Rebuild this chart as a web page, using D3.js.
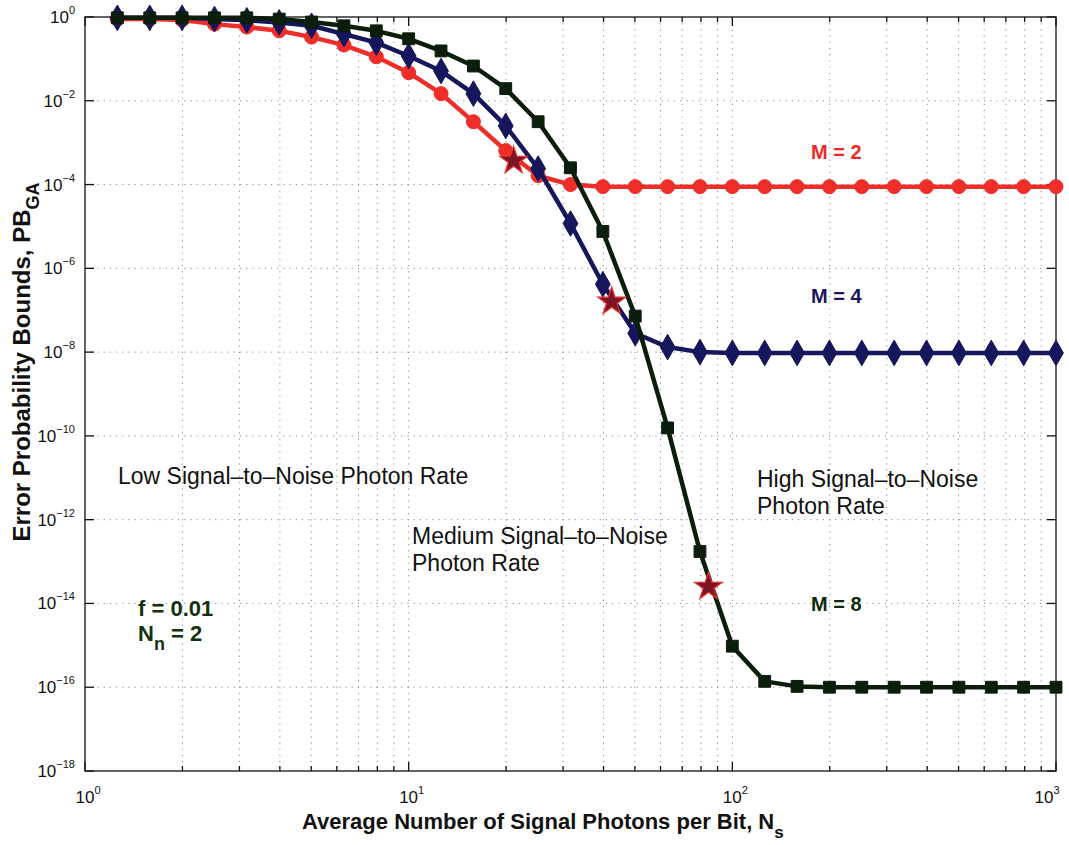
<!DOCTYPE html>
<html>
<head>
<meta charset="utf-8">
<script src="https://cdn.jsdelivr.net/npm/d3@7"></script>
<style>
  html, body { margin: 0; padding: 0; background: #ffffff; }
  svg text { font-family: "Liberation Sans", Arial, Helvetica, sans-serif; }
</style>
</head>
<body>
<svg id="chart" width="1069" height="845"></svg>
<script>
// Average number of signal photons per bit (N_s)
const photons = [1.259, 1.585, 1.995, 2.512, 3.162, 3.981, 5.012, 6.310, 7.943, 10,
                 12.59, 15.85, 19.95, 25.12, 31.62, 39.81, 50.12, 63.10, 79.43, 100,
                 125.9, 158.5, 199.5, 251.2, 316.2, 398.1, 501.2, 631.0, 794.3, 1000];

// log10 of the error probability bound for each M
const logPB_M2 = [-0.05, -0.05, -0.07, -0.17, -0.24, -0.33, -0.48, -0.67, -0.95, -1.33,
                  -1.83, -2.50, -3.19, -3.79, -4.00, -4.05, -4.05, -4.05, -4.05, -4.05,
                  -4.05, -4.05, -4.05, -4.05, -4.05, -4.05, -4.05, -4.05, -4.05, -4.05];
const logPB_M4 = [-0.02, -0.02, -0.02, -0.05, -0.08, -0.13, -0.21, -0.41, -0.61, -0.93,
                  -1.29, -1.83, -2.60, -3.62, -4.93, -6.38, -7.55, -7.88, -8.00, -8.02,
                  -8.02, -8.02, -8.02, -8.02, -8.02, -8.02, -8.02, -8.02, -8.02, -8.02];
const logPB_M8 = [-0.02, -0.02, -0.02, -0.02, -0.02, -0.05, -0.12, -0.21, -0.33, -0.52,
                  -0.81, -1.17, -1.71, -2.50, -3.60, -5.12, -7.14, -9.81, -12.76, -15.02,
                  -15.86, -15.98, -16.00, -16.00, -16.00, -16.00, -16.00, -16.00, -16.00, -16.00];

// Operating points marked with stars: [N_s, PB]
const starPoints = [[21.1, 3.7e-4], [42.4, 1.6e-7], [84.4, 2.5e-14]];

// Axis ticks
const xMajor = [1, 10, 100, 1000];
const yMajorExp = [0, -2, -4, -6, -8, -10, -12, -14, -16, -18];

const series = [
  { name: "M = 2", logs: logPB_M2, color: "#ef2e2a", marker: "circle" },
  { name: "M = 4", logs: logPB_M4, color: "#15165c", marker: "diamond" },
  { name: "M = 8", logs: logPB_M8, color: "#0b1d0b", marker: "square" }
];

const svg = d3.select("#chart");
const L = 85, R = 1056, T = 17, B = 771;

const x = d3.scaleLog().domain([1, 1000]).range([L, R]);
const y = d3.scaleLog().domain([1, 1e-18]).range([T, B]);

// minor x ticks (2..9 within each decade)
const xMinor = [];
for (let d = 0; d < 3; d++) for (let m = 2; m <= 9; m++) xMinor.push(m * Math.pow(10, d));

// grid
const grid = svg.append("g").attr("stroke", "#8a8a8a").attr("stroke-width", 1)
  .attr("stroke-dasharray", "1.2,5");
grid.selectAll("line.vx").data(xMinor.concat([10, 100])).join("line")
  .attr("x1", d => x(d)).attr("x2", d => x(d)).attr("y1", T).attr("y2", B);
grid.selectAll("line.hy").data(yMajorExp.filter(e => e !== 0 && e !== -18)).join("line")
  .attr("x1", L).attr("x2", R).attr("y1", e => y(Math.pow(10, e))).attr("y2", e => y(Math.pow(10, e)));

// frame
svg.append("rect").attr("x", L).attr("y", T).attr("width", R - L).attr("height", B - T)
  .attr("fill", "none").attr("stroke", "#111").attr("stroke-width", 1.3);

// tick marks on all four sides
const ticks = svg.append("g").attr("stroke", "#111").attr("stroke-width", 1.3);
xMinor.forEach(v => {
  ticks.append("line").attr("x1", x(v)).attr("x2", x(v)).attr("y1", B).attr("y2", B - 5);
  ticks.append("line").attr("x1", x(v)).attr("x2", x(v)).attr("y1", T).attr("y2", T + 5);
});
xMajor.forEach(v => {
  ticks.append("line").attr("x1", x(v)).attr("x2", x(v)).attr("y1", B).attr("y2", B - 9);
  ticks.append("line").attr("x1", x(v)).attr("x2", x(v)).attr("y1", T).attr("y2", T + 9);
});
yMajorExp.forEach(e => {
  const yy = y(Math.pow(10, e));
  ticks.append("line").attr("x1", L).attr("x2", L + 9).attr("y1", yy).attr("y2", yy);
  ticks.append("line").attr("x1", R).attr("x2", R - 9).attr("y1", yy).attr("y2", yy);
});

// tick labels
function powerLabel(g, px, py, exp, anchor) {
  const t = g.append("text").attr("x", px).attr("y", py).attr("text-anchor", anchor)
    .attr("font-size", 17).attr("fill", "#111");
  t.append("tspan").text("10");
  t.append("tspan").attr("dy", -9).attr("font-size", 11).text(exp < 0 ? "\u2212" + (-exp) : String(exp));
}
const lbl = svg.append("g");
yMajorExp.forEach(e => powerLabel(lbl, 75, y(Math.pow(10, e)) + 6, e, "end"));
xMajor.forEach(v => {
  const px = v === 1000 ? x(v) - 9 : x(v) + 3;
  powerLabel(lbl, px, 803, Math.round(Math.log10(v)), "middle");
});

// line + markers
const line = d3.line().x(d => x(d[0])).y(d => y(d[1]));
series.forEach(s => {
  const pts = photons.map((p, i) => [p, Math.pow(10, s.logs[i])]);
  const g = svg.append("g");
  g.append("path").datum(pts).attr("d", line).attr("fill", "none")
    .attr("stroke", s.color).attr("stroke-width", 4.5).attr("stroke-linejoin", "round");
  const symType = s.marker === "circle" ? d3.symbolCircle : s.marker === "square" ? d3.symbolSquare : d3.symbolDiamond;
  const size = s.marker === "circle" ? 155 : s.marker === "square" ? 140 : 190;
  g.selectAll("path.m").data(pts).join("path")
    .attr("d", d3.symbol().type(symType).size(size))
    .attr("transform", d => `translate(${x(d[0])},${y(d[1])})`)
    .attr("fill", s.color).attr("stroke", s.color).attr("stroke-width", 1);
});

// stars
svg.selectAll("path.star").data(starPoints).join("path")
  .attr("d", d3.symbol().type(d3.symbolStar).size(240))
  .attr("transform", d => `translate(${x(d[0])},${y(d[1])})`)
  .attr("fill", "#7c1426").attr("stroke", "#e8302c").attr("stroke-width", 1.2);

// series labels
const seriesLabels = [
  { text: "M = 2", color: "#ee2a28", px: 811, py: 159 },
  { text: "M = 4", color: "#17175e", px: 811, py: 303 },
  { text: "M = 8", color: "#0d2a0d", px: 811, py: 611 }
];
svg.selectAll("text.ml").data(seriesLabels).join("text")
  .attr("x", d => d.px).attr("y", d => d.py).attr("fill", d => d.color)
  .attr("font-size", 20).attr("font-weight", "bold").text(d => d.text);

// region annotations
const regionText = [
  { lines: ["Low Signal\u2013to\u2013Noise Photon Rate"], px: 118, py: 484 },
  { lines: ["Medium Signal\u2013to\u2013Noise", "Photon Rate"], px: 412, py: 544 },
  { lines: ["High Signal\u2013to\u2013Noise", "Photon Rate"], px: 757, py: 487 }
];
regionText.forEach(r => {
  const t = svg.append("text").attr("x", r.px).attr("y", r.py).attr("font-size", 23).attr("fill", "#111");
  r.lines.forEach((ln, i) => t.append("tspan").attr("x", r.px).attr("dy", i === 0 ? 0 : 27).text(ln));
});

// parameters
const params = svg.append("g").attr("fill", "#15300f").attr("font-weight", "bold").attr("font-size", 22);
params.append("text").attr("x", 138).attr("y", 616).text("f = 0.01");
const nn = params.append("text").attr("x", 138).attr("y", 641);
nn.append("tspan").text("N");
nn.append("tspan").attr("dy", 9).attr("font-size", 18).text("n");
nn.append("tspan").attr("dy", -9).text(" = 2");

// axis titles
const xt = svg.append("text").attr("x", 302).attr("y", 829).attr("font-size", 22)
  .attr("font-weight", "bold").attr("fill", "#111");
xt.append("tspan").text("Average Number of Signal Photons per Bit, N");
xt.append("tspan").attr("dy", 9).attr("font-size", 17).text("s");

const yt = svg.append("text").attr("transform", "translate(30,362) rotate(-90)")
  .attr("text-anchor", "middle").attr("font-size", 24).attr("font-weight", "bold").attr("fill", "#111");
yt.append("tspan").text("Error Probability Bounds, PB");
yt.append("tspan").attr("dy", 9).attr("font-size", 18).text("GA");
</script>
</body>
</html>
